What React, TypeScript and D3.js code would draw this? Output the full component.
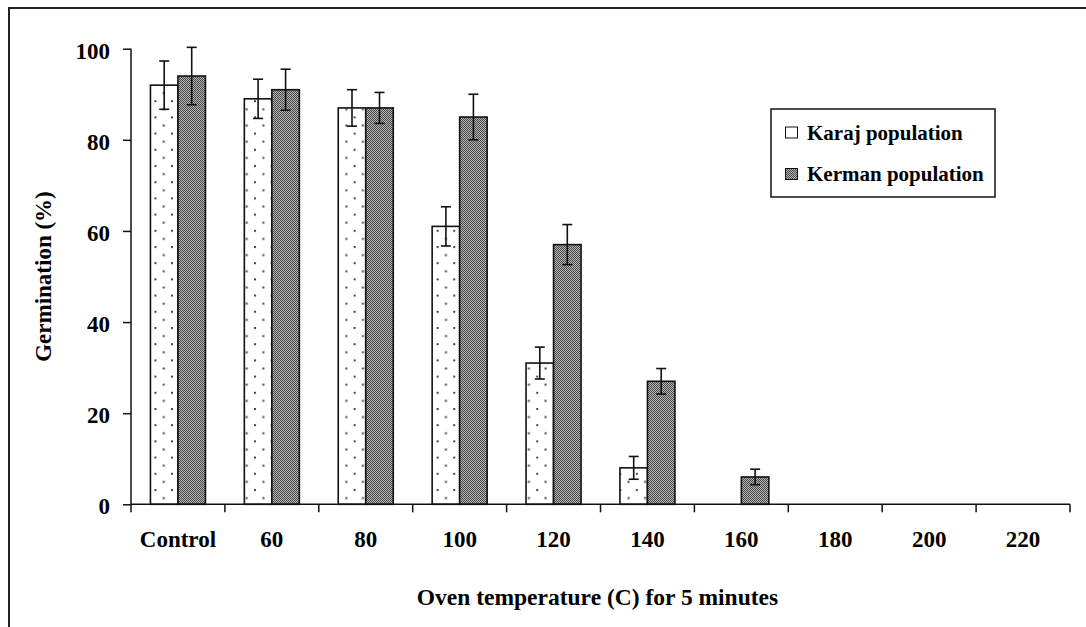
import React, { useEffect, useRef } from 'react';
import * as d3 from 'd3';

// Data
const categories = ['Control', '60', '80', '100', '120', '140', '160', '180', '200', '220'];
const seriesNames = ['Karaj population', 'Kerman population'];
const karaj = [92, 89, 87, 61, 31, 8, 0, 0, 0, 0];
const kerman = [94, 91, 87, 85, 57, 27, 6, 0, 0, 0];
const karajErr = [5.3, 4.3, 4, 4.3, 3.5, 2.5, 0, 0, 0, 0];
const kermanErr = [6.3, 4.5, 3.4, 5, 4.4, 2.8, 1.7, 0, 0, 0];
const yTicks = [0, 20, 40, 60, 80, 100];

const W = 1086;
const H = 627;
const FONT = '"Liberation Serif", "Times New Roman", Times, serif';

const App: React.FC = () => {
  const svgRef = useRef<SVGSVGElement>(null);

  useEffect(() => {
    if (!svgRef.current) return;
    const svg = d3.select(svgRef.current);
    svg.selectAll('*').remove();

    const plot = { left: 131, right: 1070, top: 48.7, bottom: 504.3 };

    const x = d3.scaleBand<string>().domain(categories).range([plot.left, plot.right]).padding(0);
    const xSub = d3.scaleBand<string>().domain(seriesNames).range([0, x.bandwidth()])
      .paddingInner(0).paddingOuter(0.707);
    const y = d3.scaleLinear().domain([0, 100]).range([plot.bottom, plot.top]);

    // Patterns
    const defs = svg.append('defs');
    const dots = defs.append('pattern')
      .attr('id', 'dots').attr('patternUnits', 'userSpaceOnUse')
      .attr('width', 16.6).attr('height', 16.2)
      .attr('x', x('Control')! + xSub(seriesNames[0])! + 4).attr('y', 3);
    dots.append('rect').attr('width', 16.6).attr('height', 16.2).attr('fill', '#fff');
    dots.append('rect').attr('x', 0).attr('y', 0).attr('width', 2).attr('height', 2).attr('fill', '#444');
    dots.append('rect').attr('x', 8.3).attr('y', 8.1).attr('width', 2).attr('height', 2).attr('fill', '#444');

    const checks = defs.append('pattern')
      .attr('id', 'checks').attr('patternUnits', 'userSpaceOnUse')
      .attr('width', 2).attr('height', 2);
    checks.append('rect').attr('width', 2).attr('height', 2).attr('fill', '#b4b4b4');
    checks.append('rect').attr('x', 0).attr('y', 0).attr('width', 1).attr('height', 1).attr('fill', '#4a4a4a');
    checks.append('rect').attr('x', 1).attr('y', 1).attr('width', 1).attr('height', 1).attr('fill', '#4a4a4a');

    // Outer frame
    svg.append('rect')
      .attr('x', 9).attr('y', 8).attr('width', W + 20).attr('height', H + 20)
      .attr('fill', 'none').attr('stroke', '#222').attr('stroke-width', 2);

    const series = [
      { name: seriesNames[0], values: karaj, errs: karajErr, fill: 'url(#dots)' },
      { name: seriesNames[1], values: kerman, errs: kermanErr, fill: 'url(#checks)' },
    ];

    // Bars
    series.forEach(s => {
      const g = svg.append('g');
      g.selectAll('rect')
        .data(categories.map((c, i) => ({ c, v: s.values[i] })).filter(d => d.v > 0))
        .enter()
        .append('rect')
        .attr('x', d => x(d.c)! + xSub(s.name)!)
        .attr('y', d => y(d.v))
        .attr('width', xSub.bandwidth())
        .attr('height', d => y(0) - y(d.v))
        .attr('fill', s.fill)
        .attr('stroke', '#111')
        .attr('stroke-width', 1.6);
    });

    // Error bars
    series.forEach(s => {
      const g = svg.append('g').attr('stroke', '#111').attr('stroke-width', 1.6);
      categories.forEach((c, i) => {
        const v = s.values[i];
        const e = s.errs[i];
        if (v <= 0 || e <= 0) return;
        const cx = x(c)! + xSub(s.name)! + xSub.bandwidth() / 2;
        g.append('line').attr('x1', cx).attr('x2', cx).attr('y1', y(v + e)).attr('y2', y(v - e));
        g.append('line').attr('x1', cx - 5).attr('x2', cx + 5).attr('y1', y(v + e)).attr('y2', y(v + e));
        g.append('line').attr('x1', cx - 5).attr('x2', cx + 5).attr('y1', y(v - e)).attr('y2', y(v - e));
      });
    });

    // Y axis
    const yAxis = svg.append('g')
      .attr('transform', `translate(${plot.left},0)`)
      .call(d3.axisLeft(y).tickValues(yTicks).tickSize(8).tickPadding(13).tickFormat(d3.format('d')));
    yAxis.select('.domain').attr('stroke', '#111').attr('stroke-width', 1.5).attr('d', `M0,${plot.top}V${plot.bottom}`);
    yAxis.selectAll('.tick line').attr('stroke', '#111').attr('stroke-width', 1.5);
    yAxis.selectAll('.tick text')
      .attr('font-family', FONT).attr('font-weight', 'bold').attr('font-size', 23)
      .attr('fill', '#000').attr('dy', '0.42em');

    // X axis: ticks on category boundaries
    const xg = svg.append('g');
    xg.append('line')
      .attr('x1', plot.left).attr('x2', plot.right)
      .attr('y1', y(0)).attr('y2', y(0))
      .attr('stroke', '#111').attr('stroke-width', 1.5);
    const bounds = categories.map(c => x(c)!).concat([plot.right]);
    xg.selectAll('line.tk')
      .data(bounds)
      .enter()
      .append('line')
      .attr('class', 'tk')
      .attr('x1', d => d).attr('x2', d => d)
      .attr('y1', y(0)).attr('y2', y(0) + 8)
      .attr('stroke', '#111').attr('stroke-width', 1.5);
    xg.selectAll('text')
      .data(categories)
      .enter()
      .append('text')
      .attr('x', d => x(d)! + x.bandwidth() / 2)
      .attr('y', 547)
      .attr('text-anchor', 'middle')
      .attr('font-family', FONT).attr('font-weight', 'bold').attr('font-size', 23)
      .attr('fill', '#000')
      .text(d => d);

    // Axis titles
    svg.append('text')
      .attr('x', (plot.left + plot.right) / 2 - 3)
      .attr('y', 605)
      .attr('text-anchor', 'middle')
      .attr('font-family', FONT).attr('font-weight', 'bold').attr('font-size', 23.5)
      .attr('fill', '#000')
      .text('Oven temperature (C) for 5 minutes');

    svg.append('text')
      .attr('transform', `translate(51,${(plot.top + plot.bottom) / 2}) rotate(-90)`)
      .attr('text-anchor', 'middle')
      .attr('font-family', FONT).attr('font-weight', 'bold').attr('font-size', 23)
      .attr('fill', '#000')
      .text('Germination (%)');

    // Legend
    const lg = svg.append('g');
    lg.append('rect')
      .attr('x', 771).attr('y', 109).attr('width', 224).attr('height', 88)
      .attr('fill', '#fff').attr('stroke', '#111').attr('stroke-width', 1.5);
    const legendFills = ['#fff', 'url(#checks)'];
    seriesNames.forEach((name, i) => {
      const base = 139.5 + i * 41.5;
      lg.append('rect')
        .attr('x', 785.5).attr('y', base - 12.5).attr('width', 12).attr('height', 11)
        .attr('fill', legendFills[i]).attr('stroke', '#111').attr('stroke-width', 1);
      lg.append('text')
        .attr('x', 807).attr('y', base)
        .attr('font-family', FONT).attr('font-weight', 'bold').attr('font-size', 21)
        .attr('fill', '#000')
        .text(name);
    });
  }, []);

  return (
    <svg
      ref={svgRef}
      width={W}
      height={H}
      style={{ position: 'absolute', left: 0, top: 0, display: 'block', background: '#fff' }}
    />
  );
};

export default App;
